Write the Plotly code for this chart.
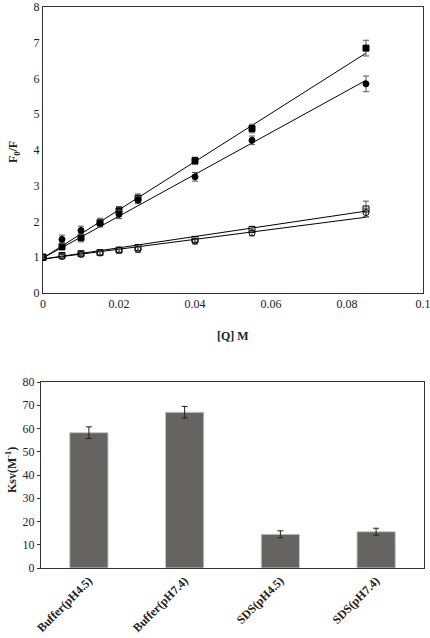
import plotly.graph_objects as go

# ---- data: Stern-Volmer plot ----
q_conc = [0, 0.005, 0.01, 0.015, 0.02, 0.025, 0.04, 0.055, 0.085]
buf_ph74 = [1.0, 1.30, 1.55, 1.97, 2.30, 2.65, 3.70, 4.60, 6.85]
buf_ph74_err = [0.05, 0.10, 0.12, 0.12, 0.12, 0.12, 0.10, 0.12, 0.22]
buf_ph45 = [1.0, 1.50, 1.75, 1.95, 2.20, 2.60, 3.25, 4.27, 5.85]
buf_ph45_err = [0.05, 0.12, 0.12, 0.10, 0.12, 0.10, 0.12, 0.12, 0.22]
sds_ph74 = [1.0, 1.05, 1.10, 1.13, 1.20, 1.27, 1.50, 1.78, 2.35]
sds_ph74_err = [0.04, 0.06, 0.05, 0.06, 0.06, 0.08, 0.08, 0.08, 0.22]
sds_ph45 = [1.0, 1.02, 1.08, 1.12, 1.20, 1.22, 1.45, 1.68, 2.25]
sds_ph45_err = [0.04, 0.06, 0.05, 0.06, 0.06, 0.08, 0.08, 0.08, 0.12]

# linear fit end points (x = 0 and x = 0.085)
fit_x = [0, 0.085]
fit_buf_ph74 = [0.98, 6.71]
fit_buf_ph45 = [0.98, 5.95]
fit_sds_ph74 = [0.95, 2.29]
fit_sds_ph45 = [0.95, 2.12]

x_ticks = [0, 0.02, 0.04, 0.06, 0.08, 0.1]
x_tick_text = ["0", "0.02", "0.04", "0.06", "0.08", "0.1"]
y1_ticks = [0, 1, 2, 3, 4, 5, 6, 7, 8]

# ---- data: Ksv bar chart ----
conditions = ["Buffer(pH4.5)", "Buffer(pH7.4)", "SDS(pH4.5)", "SDS(pH7.4)"]
ksv = [58.2, 67.0, 14.5, 15.6]
ksv_err = [2.5, 2.5, 1.5, 1.5]
y2_ticks = [0, 10, 20, 30, 40, 50, 60, 70, 80]

W, H = 430, 638
FONT = "Liberation Serif"
TXT = "#222222"

fig = go.Figure()

def series(y, err, symbol):
    fig.add_trace(go.Scatter(
        x=q_conc, y=y, mode="markers",
        marker=dict(symbol=symbol, size=6, color="black",
                    line=dict(color="black", width=1)),
        error_y=dict(type="data", array=err, color="#555555",
                     thickness=1, width=3),
        xaxis="x", yaxis="y", showlegend=False))

def fit(y):
    fig.add_trace(go.Scatter(
        x=fit_x, y=y, mode="lines", line=dict(color="black", width=1),
        xaxis="x", yaxis="y", showlegend=False, hoverinfo="skip"))

fit(fit_buf_ph74); fit(fit_buf_ph45); fit(fit_sds_ph74); fit(fit_sds_ph45)
series(buf_ph74, buf_ph74_err, "square")
series(buf_ph45, buf_ph45_err, "circle")
series(sds_ph74, sds_ph74_err, "square-open")
series(sds_ph45, sds_ph45_err, "circle-open")

fig.add_trace(go.Bar(
    x=conditions, y=ksv, width=0.4,
    marker=dict(color="#656462", line=dict(color="#c8c8c8", width=1)),
    error_y=dict(type="data", array=ksv_err, color="#222222",
                 thickness=1, width=3),
    xaxis="x2", yaxis="y2", showlegend=False))

def px_x(p):
    return p / W

def px_y(p):
    return 1 - p / H

tick_font = dict(family=FONT, size=12, color=TXT)
axis_common = dict(showgrid=False, zeroline=False, showline=True,
                   linecolor="#333333", linewidth=1, mirror=True,
                   automargin=False, ticklabeloverflow="allow")

fig.update_layout(
    width=W, height=H,
    margin=dict(l=0, r=0, t=0, b=0),
    paper_bgcolor="white", plot_bgcolor="white",
    xaxis=dict(domain=[px_x(43), px_x(423)], range=[0, 0.1],
               tickvals=x_ticks, ticktext=x_tick_text, anchor="y",
               ticks="", tickfont=tick_font, **axis_common),
    yaxis=dict(domain=[px_y(293), px_y(7)], range=[0, 8],
               tickvals=y1_ticks, anchor="x", ticks="",
               tickfont=tick_font, **axis_common),
    xaxis2=dict(domain=[px_x(41), px_x(424)], anchor="y2",
                tickangle=-45, ticks="",
                tickfont=dict(family=FONT, size=12, color=TXT, weight="bold"),
                **axis_common),
    yaxis2=dict(domain=[px_y(568), px_y(382)], range=[0, 80],
                tickvals=y2_ticks, anchor="x2", ticks="outside", ticklen=3,
                tickcolor="#333333", tickfont=tick_font, **axis_common),
    annotations=[
        dict(text="<b>F<sub>0</sub>/F</b>", x=px_x(14), y=px_y(152),
             xref="paper", yref="paper", xanchor="center", yanchor="middle",
             textangle=-90, showarrow=False,
             font=dict(family=FONT, size=12, color=TXT)),
        dict(text="<b>[Q] M</b>", x=px_x(233), y=px_y(336),
             xref="paper", yref="paper", xanchor="center", yanchor="middle",
             showarrow=False, font=dict(family=FONT, size=12, color=TXT)),
        dict(text="<b>Ksv(M<sup>-1</sup>)</b>", x=px_x(11), y=px_y(470),
             xref="paper", yref="paper", xanchor="center", yanchor="middle",
             textangle=-90, showarrow=False,
             font=dict(family=FONT, size=12, color=TXT)),
    ],
)

fig.write_html(
    "out.html",
    config={"displayModeBar": False},
    post_script="document.body.style.margin='0px';document.body.style.overflow='hidden';",
)
